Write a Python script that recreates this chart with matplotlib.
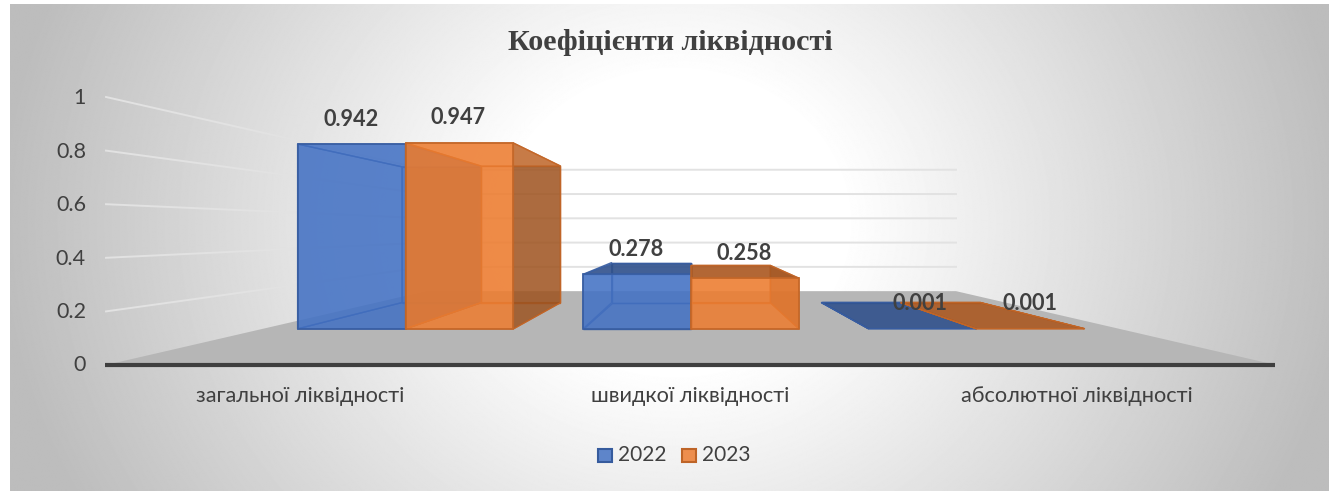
# Liquidity ratios chart, 3D clustered columns in perspective
import numpy as np
import matplotlib
matplotlib.use("Agg")
import matplotlib.pyplot as plt
from matplotlib.patches import Polygon
from matplotlib.colors import to_rgb

# Data
categories = ["загальної ліквідності", "швидкої ліквідності", "абсолютної ліквідності"]
years = ["2022", "2023"]
values_2022 = [0.942, 0.278, 0.001]
values_2023 = [0.947, 0.258, 0.001]
y_ticks = [0, 0.2, 0.4, 0.6, 0.8, 1]

W, H = 1329, 491
TEXT = "#404040"
BLUE = "#4472C4"
ORANGE = "#ED7D31"
FONT = ["Lato", "Noto Sans"]

plt.rcParams["font.family"] = FONT

fig = plt.figure(figsize=(W / 100, H / 100), dpi=100)
ax = fig.add_axes([0, 0, 1, 1])

# Perspective scale: x in categories (0..3), y in value (0..1), s = depth scale
VX, VY = 691, 230
LEFT, RIGHT, BASE, TOP = 106, 1276, 365, 97
S_WALL = 0.453
S_FRONT = 0.732
S_BACK = 0.538


def proj(x, y, s):
    px = LEFT + x / 3 * (RIGHT - LEFT)
    py = BASE + y * (TOP - BASE)
    return (VX + (px - VX) * s, VY + (py - VY) * s)


def shade(color, f):
    return tuple(c * f for c in to_rgb(color))


# Background gradient
yy, xx = np.mgrid[0:H, 0:W]
r = np.sqrt(((xx - 670) / 680) ** 2 + ((yy - 220) / 600) ** 2)
bg = 1.0 - 0.26 * np.clip((r - 0.25) / 0.75, 0, 1)
ax.imshow(bg, cmap="gray", vmin=0, vmax=1, extent=[10, W, H, 4], aspect="auto", zorder=0)
ax.set_xlim(0, W)
ax.set_ylim(H, 0)
ax.axis("off")

# Floor
floor = [proj(0, 0, 1), proj(3, 0, 1), proj(3, 0, S_WALL), proj(0, 0, S_WALL)]
ax.add_patch(Polygon(floor, fc="#b6b6b6", ec="none", zorder=1))

# Gridlines on left and back wall
for t in y_ticks[1:]:
    pts = [proj(0, t, 1), proj(0, t, S_WALL), proj(3, t, S_WALL)]
    ax.plot(*zip(*pts), color="#e2e2e2", lw=1.4, zorder=1)
    ax.text(86, proj(0, t, 1)[1] + 1, f"{t:g}", ha="right", va="center", fontsize=15.5, color=TEXT)
ax.text(86, BASE, "0", ha="right", va="center", fontsize=15.5, color=TEXT)


def draw_bar(x0, x1, v, color, z):
    edge = shade(color, 0.82)

    def face(pts, fc, alpha, lw=1.0):
        ax.add_patch(Polygon(pts, fc=(*to_rgb(fc), alpha), ec=(*edge, 0.9), lw=lw, zorder=z))

    f = S_FRONT
    b = S_BACK
    face([proj(x0, 0, b), proj(x1, 0, b), proj(x1, v, b), proj(x0, v, b)], color, 0.45)
    face([proj(x0, 0, f), proj(x1, 0, f), proj(x1, 0, b), proj(x0, 0, b)], color, 0.35)
    face([proj(x0, 0, f), proj(x0, v, f), proj(x0, v, b), proj(x0, 0, b)], color, 0.4)
    face([proj(x1, 0, f), proj(x1, v, f), proj(x1, v, b), proj(x1, 0, b)], shade(color, 0.62), 0.75)
    # top face is dark from above, plain from below the eye line
    top = [proj(x0, v, f), proj(x1, v, f), proj(x1, v, b), proj(x0, v, b)]
    if proj(x0, v, f)[1] > VY:
        face(top, shade(color, 0.7), 0.85)
    else:
        face(top, color, 0.4)
    if v > 0.01:
        face([proj(x0, 0, f), proj(x1, 0, f), proj(x1, v, f), proj(x0, v, f)], color, 0.8, lw=1.3)


bar_w = 0.378
series = [values_2022, values_2023]
colors = [BLUE, ORANGE]
label_nudge = [[(0, -25), (-1, -26)], [(-1, -25), (-1, -25)], [(-3, -25), (0, -25)]]
for i in range(3):
    c = i + 0.5
    for k in range(2):
        x0 = c - bar_w + k * bar_w
        draw_bar(x0, x0 + bar_w, series[k][i], colors[k], 2 + k)
for i in range(3):
    c = i + 0.5
    for k in range(2):
        x0 = c - bar_w + k * bar_w
        v = series[k][i]
        px, py = proj(x0 + bar_w / 2, v, S_FRONT)
        dx, dy = label_nudge[i][k]
        ax.text(px + dx, py + dy, f"{v:.3f}", ha="center", va="center", fontsize=15.6,
                fontweight="bold", color=TEXT, zorder=6)

# Category axis
ax.plot([LEFT - 1, RIGHT - 1], [BASE, BASE], color="#3f3f3f", lw=3, solid_capstyle="butt", zorder=5)
name_x = [300, 690, 1077]
for i, name in enumerate(categories):
    ax.text(name_x[i], 396, name, ha="center", va="center", fontsize=15.7, color=TEXT)

# Title
ax.text(670, 42, "Коефіцієнти ліквідності", ha="center", va="center", fontsize=21.7,
        fontweight="bold", family="Liberation Serif", color=TEXT)

# Legend
for px, name, color in [(598, years[0], BLUE), (682, years[1], ORANGE)]:
    ax.add_patch(Polygon([(px, 449), (px + 14, 449), (px + 14, 462), (px, 462)],
                         fc=(*to_rgb(color), 0.85), ec=shade(color, 0.8), lw=1.5, zorder=5))
    ax.text(px + 20, 455, name, ha="left", va="center", fontsize=15, color=TEXT)

fig.savefig("out.png", dpi=100)
